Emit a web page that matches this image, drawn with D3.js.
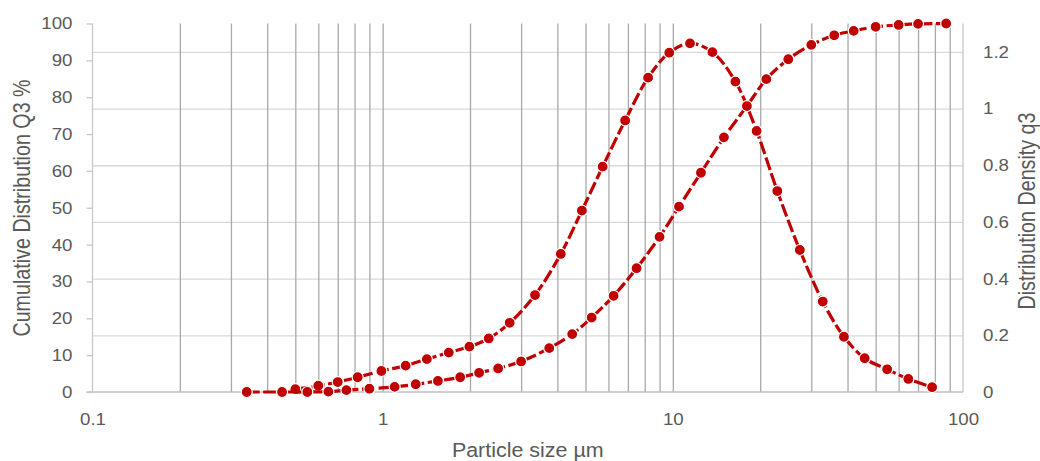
<!DOCTYPE html>
<html>
<head>
<meta charset="utf-8">
<script src="https://cdn.jsdelivr.net/npm/d3@7"></script>
<style>
  html, body { margin: 0; padding: 0; background: #ffffff; }
  svg { display: block; }
  text { font-family: "Liberation Sans", Arial, sans-serif; fill: #595959; }
</style>
</head>
<body>
<svg id="chart" width="1040" height="461"></svg>
<script>
// ---- Data ----
// Cumulative distribution Q3 (%), plotted at class upper bounds (µm)
const sizesCumulative = [0.34, 0.45, 0.55, 0.65, 0.75, 0.9, 1.1, 1.3, 1.55, 1.85, 2.15, 2.5, 3.0, 3.75, 4.5, 5.25, 6.25, 7.5, 9.0, 10.5, 12.5, 15, 18, 21, 25, 30, 36, 42, 50, 60, 70, 87.5];
const cumulativeQ3 = [0, 0, 0, 0.1, 0.5, 0.9, 1.4, 2.1, 3.0, 4.0, 5.2, 6.4, 8.3, 11.9, 15.7, 20.2, 26.1, 33.6, 42.1, 50.3, 59.5, 69.1, 77.6, 84.9, 90.3, 94.2, 96.8, 98.0, 99.1, 99.6, 99.9, 100];

// Distribution density q3, plotted at class mid-points (µm)
const sizesDensity = [0.5, 0.6, 0.7, 0.82, 0.99, 1.2, 1.42, 1.69, 1.99, 2.32, 2.74, 3.35, 4.11, 4.86, 5.73, 6.85, 8.22, 9.72, 11.46, 13.69, 16.43, 19.44, 22.91, 27.39, 32.86, 38.88, 45.83, 54.77, 64.81, 78.26];
const densityQ3 = [0.01, 0.022, 0.035, 0.052, 0.074, 0.093, 0.116, 0.139, 0.16, 0.189, 0.244, 0.342, 0.487, 0.64, 0.795, 0.958, 1.109, 1.197, 1.23, 1.199, 1.095, 0.921, 0.709, 0.501, 0.319, 0.195, 0.119, 0.08, 0.046, 0.017];

// Axis ticks
const xTickLabels = [0.1, 1, 10, 100];
const xGridValues = [0.2, 0.3, 0.4, 0.5, 0.6, 0.7, 0.8, 0.9, 1, 2, 3, 4, 5, 6, 7, 8, 9, 10, 20, 30, 40, 50, 60, 70, 80, 90];
const leftTicks = [0, 10, 20, 30, 40, 50, 60, 70, 80, 90, 100];
const rightTicks = [0, 0.2, 0.4, 0.6, 0.8, 1, 1.2];

const xTitle = "Particle size µm";
const leftTitle = "Cumulative Distribution Q3 %";
const rightTitle = "Distribution Density q3";

// ---- Layout ----
const plot = { left: 92.5, right: 963, top: 23.5, bottom: 392 };
const SX = 1.1; // horizontal stretch of the reference's lettering
const red = "#c00000";

const svg = d3.select("#chart");

const x = d3.scaleLog().domain([0.1, 100]).range([plot.left, plot.right]);
const yL = d3.scaleLinear().domain([0, 100]).range([plot.bottom, plot.top]);
const yR = d3.scaleLinear().domain([0, 1.3]).range([plot.bottom, plot.top]);

function stretchText(sel) {
  sel.each(function () {
    const t = d3.select(this);
    const tx = +t.attr("x") || 0, ty = +t.attr("y") || 0;
    t.attr("transform", `translate(${tx},${ty}) scale(${SX},1) translate(${-tx},${-ty})`);
  });
}

// Horizontal gridlines (at right-axis ticks)
svg.append("g")
  .attr("transform", `translate(${plot.left},0)`)
  .call(d3.axisRight(yR).tickValues(rightTicks.filter(d => d > 0)).tickSize(plot.right - plot.left).tickFormat(""))
  .call(g => g.select(".domain").remove())
  .call(g => g.selectAll("line").attr("stroke", "#d9d9d9").attr("stroke-width", 1.3));

// Vertical gridlines
svg.append("g")
  .attr("transform", `translate(0,${plot.bottom})`)
  .call(d3.axisTop(x).tickValues(xGridValues).tickSize(plot.bottom - plot.top).tickFormat(""))
  .call(g => g.select(".domain").remove())
  .call(g => g.selectAll("line").attr("stroke", "#a9a9a9").attr("stroke-width", 1.3));

// Right axis line
svg.append("line")
  .attr("x1", plot.right).attr("x2", plot.right)
  .attr("y1", plot.top).attr("y2", plot.bottom)
  .attr("stroke", "#c8c8c8").attr("stroke-width", 1.3);

// Bottom axis
const xAxisG = svg.append("g")
  .attr("transform", `translate(0,${plot.bottom})`)
  .call(d3.axisBottom(x).tickValues(xTickLabels).tickSize(0).tickPadding(21).tickFormat(d3.format("~g")));
xAxisG.select(".domain").attr("stroke", "#bfbfbf").attr("stroke-width", 1.5).attr("d", `M${plot.left - 6},0H${plot.right}`);
xAxisG.selectAll("text").attr("font-size", 17).attr("fill", "#595959")
  .attr("font-family", "Liberation Sans, Arial, sans-serif").call(stretchText);

// Left axis
const yLG = svg.append("g")
  .attr("transform", `translate(${plot.left},0)`)
  .call(d3.axisLeft(yL).tickValues(leftTicks).tickSize(6).tickPadding(14).tickFormat(d3.format("d")));
yLG.select(".domain").attr("stroke", "#c8c8c8").attr("stroke-width", 1.3).attr("d", `M0,${plot.top}V${plot.bottom}`);
yLG.selectAll("line").attr("stroke", "#c8c8c8").attr("stroke-width", 1.3);
yLG.selectAll("text").attr("font-size", 17).attr("fill", "#595959")
  .attr("font-family", "Liberation Sans, Arial, sans-serif").call(stretchText);

// Right axis labels
const yRG = svg.append("g")
  .attr("transform", `translate(${plot.right},0)`)
  .call(d3.axisRight(yR).tickValues(rightTicks).tickSize(0).tickPadding(20).tickFormat(d3.format("~g")));
yRG.select(".domain").remove();
yRG.selectAll("text").attr("font-size", 17).attr("fill", "#595959")
  .attr("font-family", "Liberation Sans, Arial, sans-serif").call(stretchText);

// Titles
svg.append("text")
  .attr("transform", `translate(${(plot.left + plot.right) / 2},457) scale(${SX},1)`)
  .attr("text-anchor", "middle").attr("font-size", 19.5).text(xTitle);

svg.append("text")
  .attr("transform", `translate(30,208) scale(1.2,1) rotate(-90)`)
  .attr("text-anchor", "middle").attr("font-size", 19.7).text(leftTitle);

svg.append("text")
  .attr("transform", `translate(1035,211) scale(1.2,1) rotate(-90)`)
  .attr("text-anchor", "middle").attr("font-size", 19.7).text(rightTitle);

// Series
const curve = d3.curveCatmullRom.alpha(0.5);

const cumData = sizesCumulative.map((s, i) => ({ s, v: cumulativeQ3[i] }));
const denData = sizesDensity.map((s, i) => ({ s, v: densityQ3[i] }));

function drawSeries(data, yScale) {
  const g = svg.append("g");
  g.append("path")
    .datum(data)
    .attr("fill", "none")
    .attr("stroke", red)
    .attr("stroke-width", 3.2)
    .attr("stroke-dasharray", "13,3.5")
    .attr("d", d3.line().curve(curve).x(d => x(d.s)).y(d => yScale(d.v)));
  g.selectAll("circle")
    .data(data)
    .join("circle")
    .attr("cx", d => x(d.s))
    .attr("cy", d => yScale(d.v))
    .attr("r", 5.5)
    .attr("fill", red)
    .attr("stroke", "#ffffff")
    .attr("stroke-width", 1.2);
}

drawSeries(denData, yR);
drawSeries(cumData, yL);
</script>
</body>
</html>
